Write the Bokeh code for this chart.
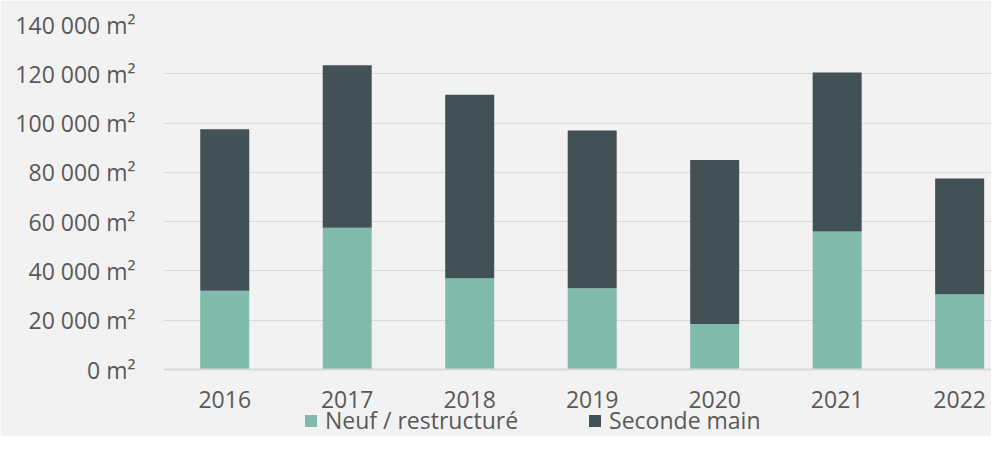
from bokeh.plotting import figure
from bokeh.models import Range1d, FixedTicker, Legend, LegendItem, ColumnDataSource
from bokeh.embed import file_html
from bokeh.resources import INLINE

years = ["2016", "2017", "2018", "2019", "2020", "2021", "2022"]
neuf = [32000, 57500, 37000, 33000, 18500, 56000, 30500]
seconde = [65500, 66000, 74500, 64000, 66500, 64500, 47000]
series = ["neuf", "seconde"]
series_labels = ["Neuf / restructuré", "Seconde main"]
colors = ["#80bbab", "#415155"]
y_ticks = [0, 20000, 40000, 60000, 80000, 100000, 120000, 140000]
y_labels = ["0 m²", "20 000 m²", "40 000 m²", "60 000 m²", "80 000 m²",
            "100 000 m²", "120 000 m²", "140 000 m²"]

BG = "#f2f2f2"
TXT = "#595959"
FONT = "Open Sans"
FS = "23px"
W, H = 991, 436
TOP, AXIS_Y = 24, 369          # pixel rows of the 140 000 and 0 gridlines
Y_MAX = 140000
y_min = -(H - AXIS_Y) * Y_MAX / (AXIS_Y - TOP)   # room below 0 for labels and legend

source = ColumnDataSource(dict(x=list(range(len(years))), neuf=neuf, seconde=seconde))

p = figure(width=W, height=H, output_backend="svg", toolbar_location=None,
           x_range=Range1d(-0.5, 6.26), y_range=Range1d(y_min, Y_MAX),
           min_border_left=163, min_border_top=TOP, min_border_right=0, min_border_bottom=0,
           background_fill_color=BG, border_fill_color=BG, outline_line_color=None)

bars = p.vbar_stack(series, x="x", width=0.4, color=colors, line_color=None, source=source)

p.xaxis.fixed_location = 0
p.xaxis.ticker = FixedTicker(ticks=list(range(len(years))))
p.xaxis.major_label_overrides = {i: y for i, y in enumerate(years)}
p.yaxis.ticker = FixedTicker(ticks=y_ticks)
p.yaxis.major_label_overrides = {t: l for t, l in zip(y_ticks, y_labels)}

for ax in (p.xaxis, p.yaxis):
    ax.major_tick_line_color = None
    ax.minor_tick_line_color = None
    ax.major_label_text_font = FONT
    ax.major_label_text_font_size = FS
    ax.major_label_text_color = TXT
p.yaxis.axis_line_color = None
p.yaxis.major_label_standoff = 22
p.xaxis.axis_line_color = "#d9d9d9"
p.xaxis.axis_line_width = 2
p.xaxis.major_label_standoff = 15

p.xgrid.grid_line_color = None
p.ygrid.ticker = FixedTicker(ticks=y_ticks[1:])
p.ygrid.grid_line_color = "#d9d9d9"
p.ygrid.grid_line_width = 1

legend = Legend(items=[LegendItem(label=lab, renderers=[r]) for lab, r in zip(series_labels, bars)],
                location=(140, 0), orientation="horizontal",
                glyph_width=15, glyph_height=15, label_standoff=7, spacing=69,
                padding=0, margin=0,
                background_fill_alpha=0, border_line_alpha=0,
                label_text_font=FONT, label_text_font_size=FS, label_text_color=TXT)
p.add_layout(legend, "center")

html = file_html(p, INLINE)
html = html.replace("<body>", '<body style="background-color:#f2f2f2;">', 1)
open("out.html", "w").write(html)
